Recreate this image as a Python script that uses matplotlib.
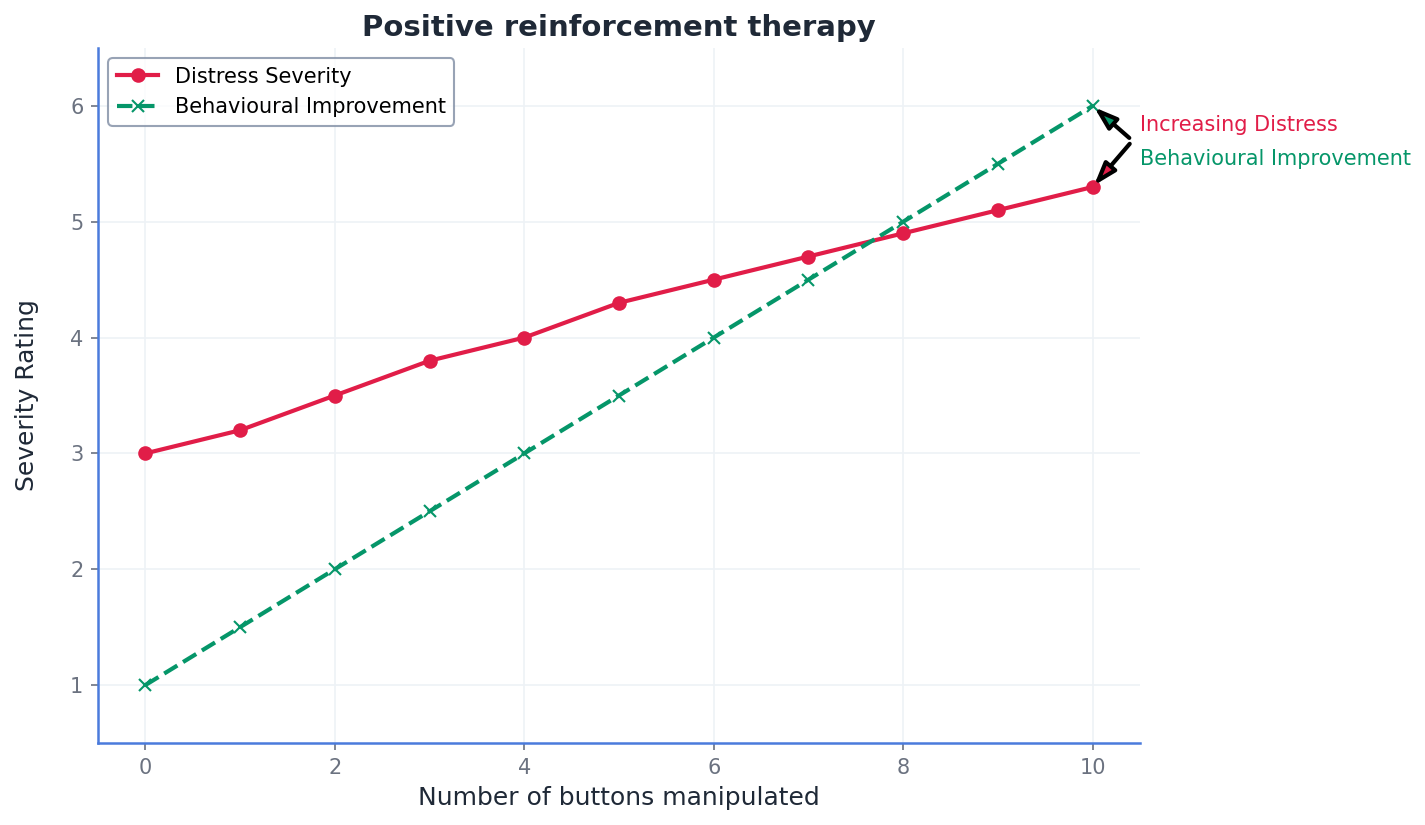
import matplotlib
matplotlib.use("Agg")
import matplotlib.pyplot as plt

buttons = [0, 1, 2, 3, 4, 5, 6, 7, 8, 9, 10]
distress = [3.0, 3.2, 3.5, 3.8, 4.0, 4.3, 4.5, 4.7, 4.9, 5.1, 5.3]
improvement = [1.0, 1.5, 2.0, 2.5, 3.0, 3.5, 4.0, 4.5, 5.0, 5.5, 6.0]

RED = "#e11d48"
GREEN = "#059669"
DARK = "#1f2937"
GRAY = "#6b7280"
BLUE = "#4a7bdc"

fig, ax = plt.subplots(figsize=(9.5, 5.5), dpi=150)
fig.subplots_adjust(left=98/1425, right=1140/1425, top=1-48/825, bottom=1-743/825)

ax.plot(buttons, distress, color=RED, lw=2, marker="o", ms=6, label="Distress Severity")
ax.plot(buttons, improvement, color=GREEN, lw=2, ls="--", marker="x", ms=6, label="Behavioural Improvement")

ax.set_xlim(-0.5, 10.5)
ax.set_ylim(0.5, 6.5)
ax.set_xticks([0, 2, 4, 6, 8, 10])
ax.set_yticks([1, 2, 3, 4, 5, 6])
ax.grid(True, color="#eef2f6", lw=0.8)
ax.set_axisbelow(True)
for s in ("top", "right"):
    ax.spines[s].set_visible(False)
for s in ("left", "bottom"):
    ax.spines[s].set_color(BLUE)
    ax.spines[s].set_linewidth(1.2)
ax.tick_params(colors=GRAY, labelsize=10, labelcolor=GRAY)

ax.set_title("Positive reinforcement therapy", fontsize=14, fontweight="bold", color=DARK)
ax.set_xlabel("Number of buttons manipulated", fontsize=12, color=DARK)
ax.set_ylabel("Severity Rating", fontsize=12, color=DARK, labelpad=15)

leg = ax.legend(loc="upper left", fontsize=10, frameon=True)
leg.get_frame().set_edgecolor("#7f8ca3")
leg.get_frame().set_linewidth(1.0)

# arrows from a common point towards the last points
arrow_origin = (10.42, 5.70)
style = "-|>,head_length=0.9,head_width=0.3"
ax.annotate("", xy=(buttons[-1], improvement[-1]), xytext=arrow_origin, annotation_clip=False,
            arrowprops=dict(arrowstyle=style, facecolor=GREEN, edgecolor="black", lw=2, shrinkB=1))
ax.annotate("", xy=(buttons[-1], distress[-1]), xytext=arrow_origin, annotation_clip=False,
            arrowprops=dict(arrowstyle=style, facecolor=RED, edgecolor="black", lw=2, shrinkB=1))

ax.text(1.0, 5.835, "Increasing Distress", transform=ax.get_yaxis_transform(),
        color=RED, fontsize=10, va="center", ha="left")
ax.text(1.0, 5.54, "Behavioural Improvement", transform=ax.get_yaxis_transform(),
        color=GREEN, fontsize=10, va="center", ha="left")

fig.savefig("out.png", dpi=150)
